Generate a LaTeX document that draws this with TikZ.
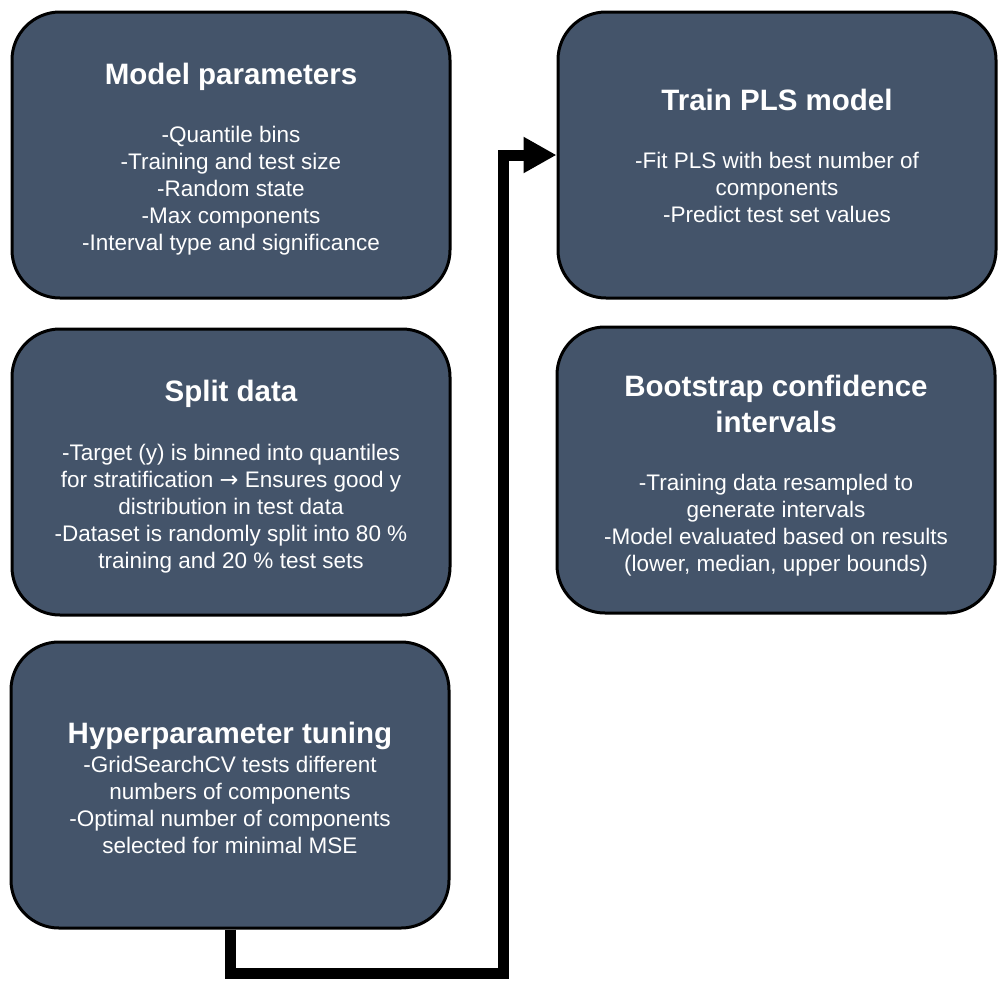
\documentclass[tikz,border=0pt]{standalone}
\usepackage{fontspec}
\setmainfont{Liberation Sans}
\newfontfamily\symfont{DejaVu Sans}
\usepackage{tikz}
\usetikzlibrary{arrows.meta,positioning}
\definecolor{slate}{HTML}{44546A}
\newcommand{\ttl}[1]{{\fontsize{29.5}{36}\selectfont\bfseries #1}}
\newcommand{\headroom}[1]{\rule{0pt}{#1}}
\tikzset{
  stage/.style={draw=black,line width=3pt,rounded corners=48pt,fill=slate,text=white,align=center,
    font=\fontsize{22.5}{27}\selectfont,inner sep=0pt,minimum width=438pt,minimum height=286pt},
  flow/.style={-{Triangle[length=33pt,width=34pt]},line width=11pt,draw=black}
}
\begin{document}
\begin{tikzpicture}[x=1pt,y=-1pt]
  \useasboundingbox (0,0) rectangle (1006,988);
  \node[stage] (params) at (231,155) {\ttl{\headroom{29.5pt}Model parameters}\\[31pt]-Quantile bins\\-Training and test size\\-Random state\\-Max components\\-Interval type and significance};
  \node[stage] (split) at (231,472) {\ttl{\headroom{30pt}Split data}\\[32pt]-Target (y) is binned into quantiles\\for stratification {\symfont →} Ensures good y\\distribution in test data\\-Dataset is randomly split into 80 \%\\training and 20 \% test sets};
  \node[stage] (tuning) at (230,785) {\ttl{\headroom{26.5pt}Hyperparameter tuning}\\[2pt]-GridSearchCV tests different\\numbers of components\\-Optimal number of components\\selected for minimal MSE};
  \node[stage] (train) at (777,155) {\ttl{\headroom{23.5pt}Train PLS model}\\[30.5pt]-Fit PLS with best number of\\components\\-Predict test set values};
  \node[stage] (boot) at (776,470) {\ttl{\headroom{32.5pt}Bootstrap confidence}\\[8pt]\ttl{intervals}\\[30.5pt]-Training data resampled to\\generate intervals\\-Model evaluated based on results\\(lower, median, upper bounds)};
  \coordinate (low) at (503,973);
  \draw[flow] (tuning.south) |- (low) |- (train.west);
\end{tikzpicture}
\end{document}
